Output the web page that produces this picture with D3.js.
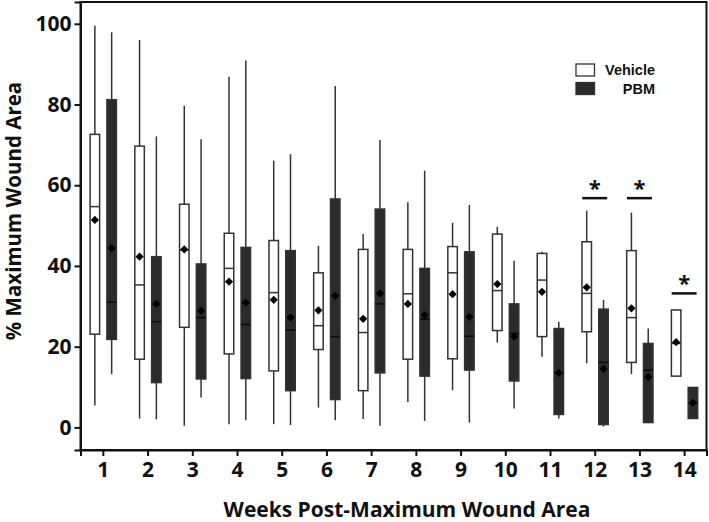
<!DOCTYPE html>
<html>
<head>
<meta charset="utf-8">
<script src="https://cdn.jsdelivr.net/npm/d3@7"></script>
<style>
  body { margin: 0; background: #fff; }
  svg text { font-family: "Open Sans", "DejaVu Sans", sans-serif; font-weight: 700; fill: #111; }
  svg .legend text { font-family: "Liberation Sans", Arial, sans-serif; }
</style>
</head>
<body>
<script>
// weeks post-maximum wound area
var weeks = [1, 2, 3, 4, 5, 6, 7, 8, 9, 10, 11, 12, 13, 14];

// Vehicle: whisker low, Q1, median, Q3, whisker high, mean
var vehLow  = [5.4, 2.2, 0.4, 0.8, 0.8, 4.9, 2.1, 6.3, 9.2, 21.0, 17.5, 15.9, 13.2, 12.7];
var vehQ1   = [23.1, 16.9, 24.8, 18.2, 14.0, 19.3, 9.1, 16.9, 17.0, 24.0, 22.5, 23.7, 16.1, 12.7];
var vehMed  = [54.7, 35.3, 44.0, 39.4, 33.4, 25.2, 23.5, 33.1, 38.3, 33.9, 36.5, 33.2, 27.2, 20.8];
var vehQ3   = [72.6, 69.7, 55.3, 48.1, 46.3, 38.3, 44.1, 44.1, 44.8, 47.9, 43.1, 46.0, 43.8, 29.1];
var vehHigh = [99.5, 96.0, 79.7, 86.9, 66.1, 45.0, 47.9, 55.8, 50.7, 49.7, 43.5, 53.7, 53.2, 29.1];
var vehMean = [51.4, 42.3, 44.1, 36.1, 31.6, 29.0, 26.9, 30.6, 33.0, 35.5, 33.6, 34.7, 29.5, 21.1];

// PBM
var pbmLow  = [13.2, 2.0, 7.4, 1.8, 0.6, 1.8, 0.4, 1.6, 1.2, 4.7, 2.2, 0.2, 1.2, 2.2];
var pbmQ1   = [21.8, 11.1, 12.0, 12.1, 9.1, 6.9, 13.5, 12.7, 14.2, 11.5, 3.2, 0.7, 1.2, 2.2];
var pbmMed  = [31.0, 26.2, 27.2, 25.5, 24.1, 22.5, 30.6, 26.8, 22.6, 23.3, 13.5, 16.1, 14.2, 6.1];
var pbmQ3   = [81.2, 42.3, 40.5, 44.6, 43.8, 56.6, 54.1, 39.4, 43.5, 30.6, 24.5, 29.3, 20.8, 9.9];
var pbmHigh = [97.9, 72.1, 71.4, 90.9, 67.7, 84.6, 71.2, 63.6, 55.1, 41.3, 26.2, 31.6, 24.5, 9.9];
var pbmMean = [44.4, 30.6, 28.9, 30.9, 27.2, 32.6, 33.2, 27.8, 27.4, 22.5, 13.5, 14.5, 12.5, 6.1];

// significance markers
var sigWeeks  = [12, 13, 14];
var sigLevels = [56.8, 56.8, 33.2];

var yTicks = [0, 20, 40, 60, 80, 100];
var seriesNames = ["Vehicle", "PBM"];

var width = 709, height = 522;
var svg = d3.select("body").append("svg")
    .attr("width", width)
    .attr("height", height);

var x = d3.scaleLinear().domain([0.5, 14.5]).range([80.5, 706.5]);
var y = d3.scaleLinear().domain([-5.6, 105.4]).range([450, 2]);

var offset = {Vehicle: -8, PBM: 8.8};
var boxW = 9.5;

function rows(low, q1, med, q3, high, mean, name) {
  return weeks.map(function(w, i) {
    return {week: w, lo: low[i], q1: q1[i], med: med[i], q3: q3[i], hi: high[i], mean: mean[i], group: name};
  });
}
var data = rows(vehLow, vehQ1, vehMed, vehQ3, vehHigh, vehMean, "Vehicle")
  .concat(rows(pbmLow, pbmQ1, pbmMed, pbmQ3, pbmHigh, pbmMean, "PBM"));

// frame
svg.append("rect")
    .attr("x", x(0.5)).attr("y", y(105.4))
    .attr("width", x(14.5) - x(0.5)).attr("height", y(-5.6) - y(105.4))
    .attr("fill", "none").attr("stroke", "#111").attr("stroke-width", 2);

// axes
var yAxis = svg.append("g")
    .attr("transform", "translate(" + x(0.5) + ",0)")
    .call(d3.axisLeft(y).tickValues(yTicks).tickSize(6).tickPadding(3));
var xAxis = svg.append("g")
    .attr("transform", "translate(0," + y(-5.6) + ")")
    .call(d3.axisBottom(x).tickValues(weeks).tickSize(6).tickPadding(6).tickFormat(d3.format("d")));
[yAxis, xAxis].forEach(function(a) {
  a.select(".domain").attr("stroke", "#111").attr("stroke-width", 2);
  a.selectAll(".tick line").attr("stroke", "#111").attr("stroke-width", 2);
  a.selectAll(".tick text").style("font-size", "21px").attr("fill", "#111");
});

// boxes
var g = svg.selectAll(".box")
    .data(data)
  .enter().append("g")
    .attr("class", "box")
    .attr("transform", function(d) { return "translate(" + (x(d.week) + offset[d.group]) + ",0)"; });

g.append("line")
    .attr("y1", function(d) { return y(d.hi); })
    .attr("y2", function(d) { return y(d.q3); })
    .attr("stroke", "#333").attr("stroke-width", 1.5);
g.append("line")
    .attr("y1", function(d) { return y(d.q1); })
    .attr("y2", function(d) { return y(d.lo); })
    .attr("stroke", "#333").attr("stroke-width", 1.5);

g.append("rect")
    .attr("x", -boxW / 2)
    .attr("width", boxW)
    .attr("y", function(d) { return y(d.q3); })
    .attr("height", function(d) { return y(d.q1) - y(d.q3); })
    .attr("fill", function(d) { return d.group == "PBM" ? "#2b2b2b" : "#fff"; })
    .attr("stroke", "#333").attr("stroke-width", 1.5);

g.append("line")
    .attr("x1", -boxW / 2).attr("x2", boxW / 2)
    .attr("y1", function(d) { return y(d.med); })
    .attr("y2", function(d) { return y(d.med); })
    .attr("stroke", function(d) { return d.group == "PBM" ? "#0a0a0a" : "#333"; })
    .attr("stroke-width", 1.5);

// mean diamonds
g.append("path")
    .attr("d", d3.symbol().type(d3.symbolSquare).size(34))
    .attr("transform", function(d) { return "translate(0," + y(d.mean) + ") rotate(45)"; })
    .attr("fill", "#000");

// significance bars
var sig = svg.selectAll(".sig")
    .data(sigWeeks.map(function(w, i) { return {week: w, level: sigLevels[i]}; }))
  .enter().append("g")
    .attr("class", "sig");
sig.append("line")
    .attr("x1", function(d) { return x(d.week) - 12.5; })
    .attr("x2", function(d) { return x(d.week) + 12.5; })
    .attr("y1", function(d) { return y(d.level); })
    .attr("y2", function(d) { return y(d.level); })
    .attr("stroke", "#111").attr("stroke-width", 2.5);
sig.append("text")
    .attr("x", function(d) { return x(d.week); })
    .attr("y", function(d) { return y(d.level) - 2; })
    .attr("text-anchor", "middle")
    .style("font-size", "22px")
    .text("*");

// legend
var legend = svg.append("g").attr("class", "legend");
seriesNames.forEach(function(name, i) {
  legend.append("rect")
      .attr("x", 576).attr("y", 64 + i * 18.5)
      .attr("width", 18.5).attr("height", 12)
      .attr("fill", name == "PBM" ? "#2b2b2b" : "#fff")
      .attr("stroke", "#333").attr("stroke-width", 1.3);
  legend.append("text")
      .attr("x", 655).attr("y", 75 + i * 18.5)
      .attr("text-anchor", "end")
      .style("font-size", "14.5px")
      .text(name);
});

// axis titles
svg.append("text")
    .attr("x", 407).attr("y", 517)
    .attr("text-anchor", "middle")
    .style("font-size", "21px")
    .text("Weeks Post-Maximum Wound Area");
svg.append("text")
    .attr("transform", "translate(21,211) rotate(-90)")
    .attr("text-anchor", "middle")
    .style("font-size", "20.5px")
    .text("% Maximum Wound Area");
</script>
</body>
</html>
